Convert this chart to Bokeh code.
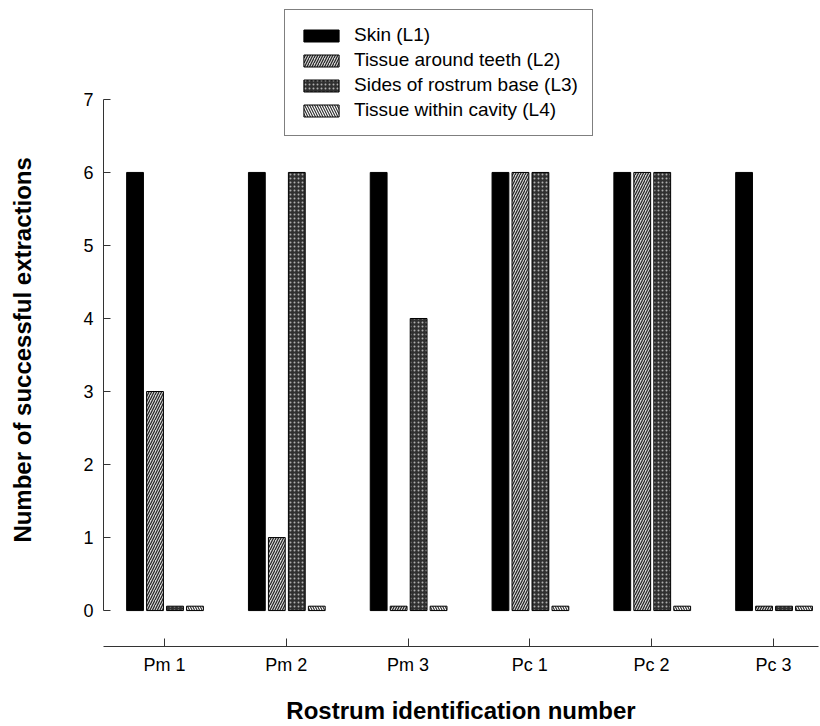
import math
from bokeh.plotting import figure
from bokeh.layouts import row
from bokeh.models import ColumnDataSource, FixedTicker, Legend, LegendItem, Range1d
from bokeh.core.properties import value
from bokeh.transform import dodge
from bokeh.embed import file_html
from bokeh.resources import INLINE

categories = ["Pm 1", "Pm 2", "Pm 3", "Pc 1", "Pc 2", "Pc 3"]
skin_L1 = [6, 6, 6, 6, 6, 6]
teeth_L2 = [3, 1, 0, 6, 6, 0]
sides_L3 = [0, 6, 4, 6, 6, 0]
cavity_L4 = [0, 0, 0, 0, 0, 0]
series_names = ["Skin (L1)", "Tissue around teeth (L2)",
                "Sides of rostrum base (L3)", "Tissue within cavity (L4)"]
y_ticks = [0, 1, 2, 3, 4, 5, 6, 7]
y_title = "Number of successful extractions"
x_title = "Rostrum identification number"

STUB = 0.06  # zero values are drawn as thin stubs, as in the original
idx = list(range(len(categories)))
def shown(vals):
    return [max(v, STUB) for v in vals]

src = ColumnDataSource(dict(
    x=idx,
    l1=shown(skin_L1), l2=shown(teeth_L2), l3=shown(sides_L3), l4=shown(cavity_L4),
))

FONT = "Liberation Sans"
H = 726
TW = 40

# narrow strip carrying the vertical axis title (its frame is aligned with the main frame)
t = figure(width=TW, height=H, output_backend="svg", toolbar_location=None,
           x_range=Range1d(0, TW), y_range=Range1d(0, 1),
           x_axis_location=None, y_axis_location=None,
           min_border_left=0, min_border_right=0, min_border_top=4, min_border_bottom=79)
t.outline_line_color = None
t.grid.grid_line_color = None
t.text(x=[22], y=[0.462], text=[y_title], angle=math.pi / 2,
       text_align="center", text_baseline="middle",
       text_font=value(FONT), text_font_style="bold", text_font_size="24px",
       text_color="black")

p = figure(width=820 - TW, height=H, output_backend="svg", toolbar_location=None,
           x_range=Range1d(-0.50, 5.37), y_range=Range1d(-0.492, 8.30),
           min_border_left=103 - TW, min_border_right=2, min_border_top=4, min_border_bottom=79)
p.outline_line_color = None
p.grid.grid_line_color = None
p.background_fill_color = "white"

W = 0.138
styles = [
    dict(fill_color="black"),
    dict(fill_color="#d4d4d4", hatch_pattern="right_diagonal_line", hatch_color="#222222",
         hatch_scale=5, hatch_weight=1.2),
    dict(fill_color="#303030", hatch_pattern="dot", hatch_color="#b0b0b0",
         hatch_scale=4, hatch_weight=1.6),
    dict(fill_color="white", hatch_pattern="left_diagonal_line", hatch_color="#333333",
         hatch_scale=5, hatch_weight=1.2),
]
offsets = [-0.241, -0.077, 0.087, 0.251]
cols = ["l1", "l2", "l3", "l4"]
renderers = []
for col, off, st in zip(cols, offsets, styles):
    r = p.vbar(x=dodge("x", off, range=p.x_range), top=col, bottom=0, width=W, source=src,
               line_color="black", line_width=1, **st)
    renderers.append(r)

legend = Legend(items=[LegendItem(label=n, renderers=[r]) for n, r in zip(series_names, renderers)],
                location=(181, 510))
legend.glyph_width = 44
legend.glyph_height = 15
legend.label_height = 22
legend.spacing = 3
legend.padding = 14
legend.margin = 0
legend.label_standoff = 11
legend.label_text_font = FONT
legend.label_text_font_size = "19px"
legend.label_text_color = "black"
legend.border_line_color = "black"
legend.border_line_width = 1
legend.background_fill_alpha = 1
p.add_layout(legend)

# Y axis
ya = p.yaxis[0]
ya.ticker = FixedTicker(ticks=y_ticks)
ya.bounds = (0, 7)
ya.major_tick_in = 7
ya.major_tick_out = 0
ya.minor_tick_line_color = None
ya.major_label_standoff = 10
ya.major_label_text_font = FONT
ya.major_label_text_font_size = "18px"
ya.major_label_text_color = "black"
ya.axis_line_color = "#333333"
ya.major_tick_line_color = "#333333"

# X axis
xa = p.xaxis[0]
xa.ticker = FixedTicker(ticks=idx)
xa.major_label_overrides = {i: c for i, c in zip(idx, categories)}
xa.major_tick_in = 8
xa.major_tick_out = 0
xa.minor_tick_line_color = None
xa.major_label_standoff = 8
xa.major_label_text_font = FONT
xa.major_label_text_font_size = "18px"
xa.major_label_text_color = "black"
xa.axis_label = x_title
xa.axis_label_text_font = FONT
xa.axis_label_text_font_style = "bold"
xa.axis_label_text_font_size = "24px"
xa.axis_label_text_color = "black"
xa.axis_label_standoff = 19
xa.axis_line_color = "#333333"
xa.major_tick_line_color = "#333333"

layout = row(t, p, spacing=0)
open("out.html", "w").write(file_html(layout, INLINE))
